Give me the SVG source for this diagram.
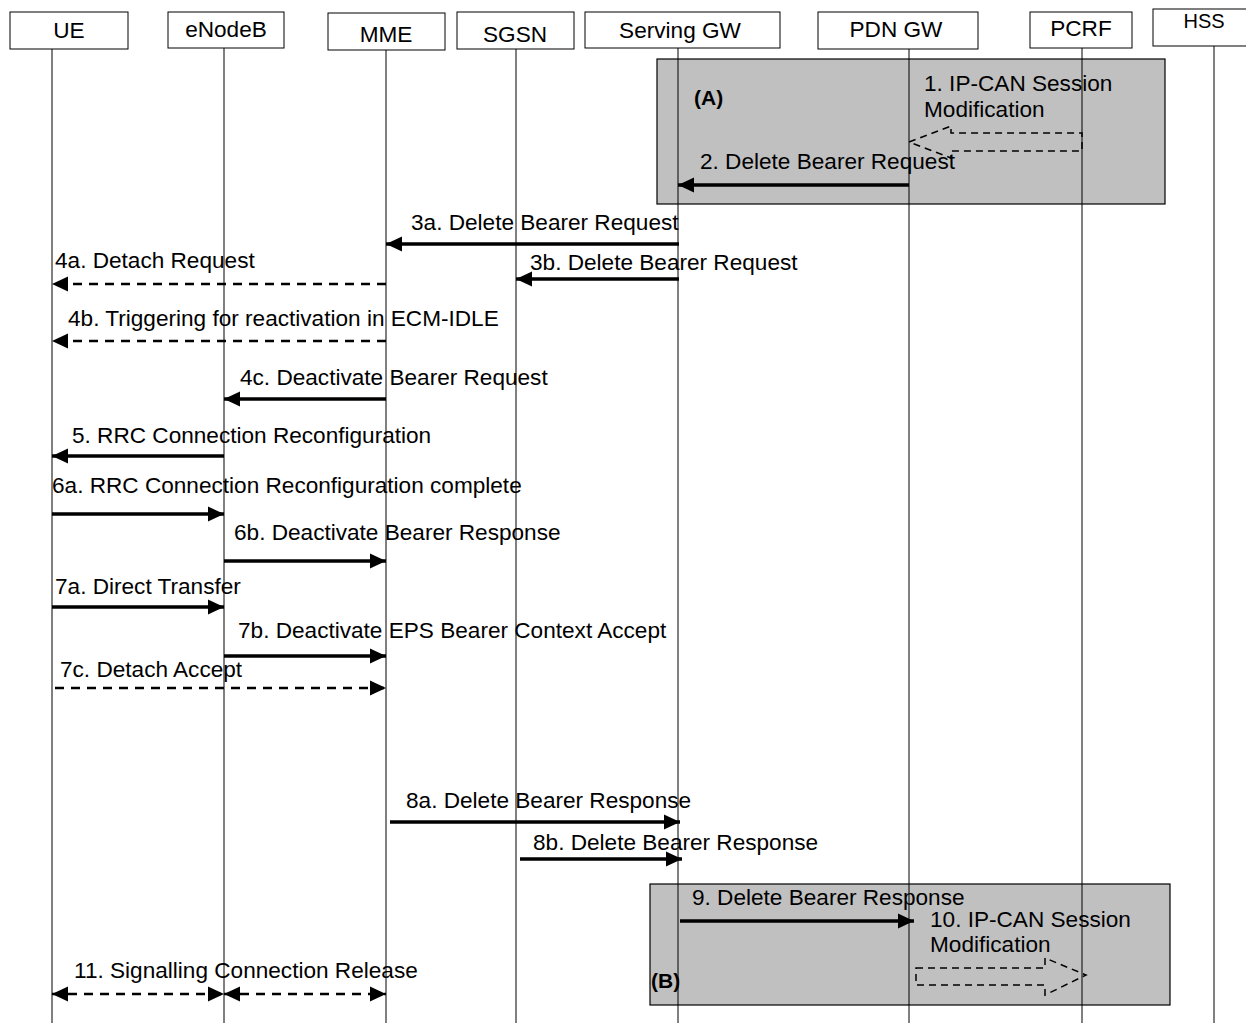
<svg xmlns="http://www.w3.org/2000/svg" width="1246" height="1023" viewBox="0 0 1246 1023">
<style>
text{font-family:"Liberation Sans",Arial,sans-serif;font-size:22.6px;fill:#000}
.b{font-weight:bold;font-size:21px}
.node rect{fill:#fff;stroke:#000;stroke-width:1}
.life{stroke:#000;stroke-width:1}
.grp{fill:#c0c0c0;stroke:#000;stroke-width:1.2}
.m{stroke:#000;stroke-width:3.5;fill:none;marker-end:url(#ah)}
.d{stroke:#000;stroke-width:2.5;stroke-dasharray:9 7;fill:none;marker-end:url(#ah)}
.dd{stroke:#000;stroke-width:2.5;stroke-dasharray:9 7;fill:none;marker-end:url(#ah);marker-start:url(#ah)}
.hollow{fill:none;stroke:#000;stroke-width:1.5;stroke-dasharray:7 5}
</style>
<defs>
<marker id="ah" markerUnits="userSpaceOnUse" markerWidth="17" markerHeight="16" refX="16" refY="7.5" orient="auto-start-reverse" viewBox="0 0 17 15">
<path d="M0,0 L16,7.5 L0,15 z" fill="#000"/>
</marker>
</defs>
<rect width="1246" height="1023" fill="#fff"/>
<g id="groupA"><rect class="grp" x="657" y="59" width="508" height="145"/><text class="b" x="694" y="105">(A)</text></g>
<g id="groupB"><rect class="grp" x="650" y="884" width="520" height="121"/><text class="b" x="651" y="988">(B)</text></g>
<g id="lifelines">
<line class="life" x1="52" y1="49" x2="52" y2="1023"/>
<line class="life" x1="224" y1="48" x2="224" y2="1023"/>
<line class="life" x1="386" y1="50" x2="386" y2="1023"/>
<line class="life" x1="516" y1="49" x2="516" y2="1023"/>
<line class="life" x1="678" y1="48" x2="678" y2="1023"/>
<line class="life" x1="909" y1="49" x2="909" y2="1023"/>
<line class="life" x1="1082" y1="48" x2="1082" y2="1023"/>
<line class="life" x1="1214" y1="46" x2="1214" y2="1023"/>
</g>
<g id="UE" class="node"><rect x="10" y="12" width="118" height="37"/><text x="69" y="38" text-anchor="middle">UE</text></g>
<g id="eNodeB" class="node"><rect x="168" y="12" width="116" height="36"/><text x="226" y="37" text-anchor="middle">eNodeB</text></g>
<g id="MME" class="node"><rect x="328" y="13" width="117" height="37"/><text x="386" y="42" text-anchor="middle">MME</text></g>
<g id="SGSN" class="node"><rect x="457" y="12" width="117" height="37"/><text x="515" y="42" text-anchor="middle">SGSN</text></g>
<g id="ServingGW" class="node"><rect x="585" y="12" width="195" height="36"/><text x="680" y="38" text-anchor="middle">Serving GW</text></g>
<g id="PDNGW" class="node"><rect x="818" y="12" width="160" height="37"/><text x="896" y="37" text-anchor="middle">PDN GW</text></g>
<g id="PCRF" class="node"><rect x="1030" y="12" width="102" height="36"/><text x="1081" y="36" text-anchor="middle">PCRF</text></g>
<g id="HSS" class="node"><rect x="1153" y="9" width="100" height="37"/><text x="1204" y="28" text-anchor="middle" style="font-size:20px">HSS</text></g>
<g id="connectors">
<path class="hollow" d="M909,142 L951,126 L951,133 L1082,133 L1082,151 L951,151 L951,158 Z"/>
<line class="m" x1="909" y1="185" x2="678" y2="185"/>
<line class="m" x1="679" y1="244" x2="386" y2="244"/>
<line class="m" x1="679" y1="279" x2="516" y2="279"/>
<line class="d" x1="386" y1="284" x2="52" y2="284"/>
<line class="d" x1="386" y1="341" x2="52" y2="341"/>
<line class="m" x1="386" y1="399" x2="224" y2="399"/>
<line class="m" x1="224" y1="456" x2="52" y2="456"/>
<line class="m" x1="52" y1="514" x2="224" y2="514"/>
<line class="m" x1="224" y1="561" x2="386" y2="561"/>
<line class="m" x1="52" y1="607" x2="224" y2="607"/>
<line class="m" x1="224" y1="656" x2="386" y2="656"/>
<line class="d" x1="55" y1="688" x2="386" y2="688"/>
<line class="m" x1="390" y1="822" x2="680" y2="822"/>
<line class="m" x1="520" y1="859" x2="682" y2="859"/>
<line class="m" x1="680" y1="921" x2="914" y2="921"/>
<path class="hollow" d="M916,968 L1045,968 L1045,958 L1086,975 L1045,995 L1045,985 L916,985 Z"/>
<line class="dd" x1="52" y1="994" x2="224" y2="994"/>
<line class="dd" x1="224" y1="994" x2="386" y2="994"/>
</g>
<g id="labels">
<text x="924" y="91">1. IP-CAN Session</text>
<text x="924" y="117">Modification</text>
<text x="700" y="169">2. Delete Bearer Request</text>
<text x="411" y="230">3a. Delete Bearer Request</text>
<text x="530" y="270">3b. Delete Bearer Request</text>
<text x="55" y="268">4a. Detach Request</text>
<text x="68" y="326">4b. Triggering for reactivation in ECM-IDLE</text>
<text x="240" y="385">4c. Deactivate Bearer Request</text>
<text x="72" y="443">5. RRC Connection Reconfiguration</text>
<text x="52" y="493">6a. RRC Connection Reconfiguration complete</text>
<text x="234" y="540">6b. Deactivate Bearer Response</text>
<text x="55" y="594">7a. Direct Transfer</text>
<text x="238" y="638">7b. Deactivate EPS Bearer Context Accept</text>
<text x="60" y="677">7c. Detach Accept</text>
<text x="406" y="808">8a. Delete Bearer Response</text>
<text x="533" y="850">8b. Delete Bearer Response</text>
<text x="692" y="905">9. Delete Bearer Response</text>
<text x="930" y="927">10. IP-CAN Session</text>
<text x="930" y="952">Modification</text>
<text x="74" y="978">11. Signalling Connection Release</text>
</g>
</svg>
